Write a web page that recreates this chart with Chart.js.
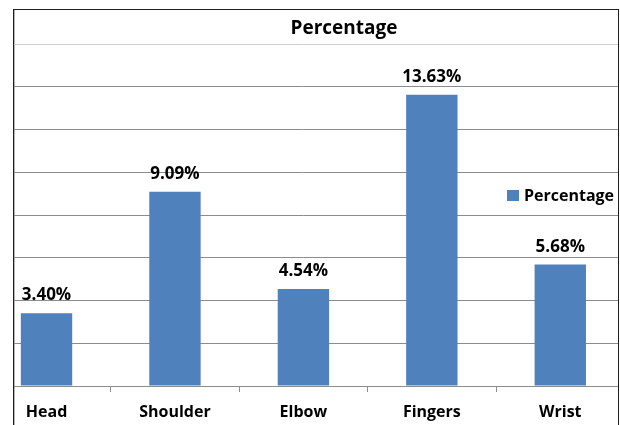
<!DOCTYPE html>
<html>
<head>
<meta charset="utf-8">
<script src="https://cdn.jsdelivr.net/npm/chart.js@4.4.0/dist/chart.umd.min.js"></script>
<style>
  html, body { margin: 0; padding: 0; background: #fff; width: 620px; height: 425px; overflow: hidden; }
  #frame {
    position: absolute; left: 13px; top: 9px; width: 604px; height: 416px;
    border: 1px solid #1e1e1e; border-bottom: none; overflow: hidden;
    box-shadow: inset 1px 0 0 #b4b4b4;
  }
  #plot { position: absolute; left: -36px; top: -10px; }
  #title {
    position: absolute; left: 244px; width: 200px; top: 14px; text-align: center;
    font: 700 19px "Open Sans", sans-serif; color: #000;
  }
  #legend {
    position: absolute; left: 507px; top: 184px; display: flex; align-items: center;
    font: 700 16px "Open Sans", sans-serif; color: #000; white-space: nowrap;
  }
  #legend i { display: inline-block; width: 12px; height: 11px; background: #4f81bd; margin-right: 5px; }
</style>
</head>
<body>
<div id="frame"><canvas id="plot" width="650" height="425"></canvas></div>
<div id="title">Percentage</div>
<div id="legend"><i></i><span>Percentage</span></div>
<script>
// Share of cases by body region
const categories = ['Head', 'Shoulder', 'Elbow', 'Fingers', 'Wrist'];
const percentages = [3.40, 9.09, 4.54, 13.63, 5.68];
const seriesName = 'Percentage';
const yMin = 0;
const yMax = 16;
const yStep = 2;

const barColor = '#4f81bd';
const labelFont = '"Open Sans", sans-serif';

// Prints each bar's value just above it
const valueLabels = {
  id: 'valueLabels',
  afterDatasetsDraw(chart) {
    const { ctx } = chart;
    const meta = chart.getDatasetMeta(0);
    ctx.save();
    ctx.font = '700 17px ' + labelFont;
    ctx.fillStyle = '#000';
    ctx.textAlign = 'center';
    ctx.textBaseline = 'alphabetic';
    meta.data.forEach((bar, i) => {
      ctx.fillText(percentages[i].toFixed(2) + '%', bar.x, bar.y - 13);
    });
    ctx.restore();
  }
};

new Chart(document.getElementById('plot'), {
  type: 'bar',
  data: {
    labels: categories,
    datasets: [{
      label: seriesName,
      data: percentages,
      backgroundColor: barColor,
      borderWidth: 0,
      barPercentage: 0.4,
      categoryPercentage: 1
    }]
  },
  options: {
    responsive: false,
    animation: false,
    devicePixelRatio: 1,
    layout: { padding: { left: 4.3, right: 3.5, top: 44, bottom: 0 } },
    plugins: {
      legend: { display: false },
      title: { display: false },
      tooltip: { enabled: false }
    },
    scales: {
      x: {
        type: 'category',
        offset: true,
        grid: { offset: true, drawOnChartArea: false, drawTicks: true, tickLength: 6, color: '#8c8c8c' },
        border: { display: true, color: '#8c8c8c', width: 1 },
        ticks: { color: '#000', font: { family: labelFont, size: 16, weight: '700' }, padding: 11, maxRotation: 0, autoSkip: false },
        afterFit(scale) { scale.height = 39; }
      },
      y: {
        min: yMin,
        max: yMax,
        ticks: { display: false, stepSize: yStep },
        border: { display: false },
        grid: {
          drawTicks: false,
          color: (ctx) => (ctx.tick && ctx.tick.value === yMax ? '#cfcfcf' : '#8c8c8c')
        },
        afterFit(scale) { scale.width = 0; }
      }
    }
  },
  plugins: [valueLabels]
});
</script>
</body>
</html>
